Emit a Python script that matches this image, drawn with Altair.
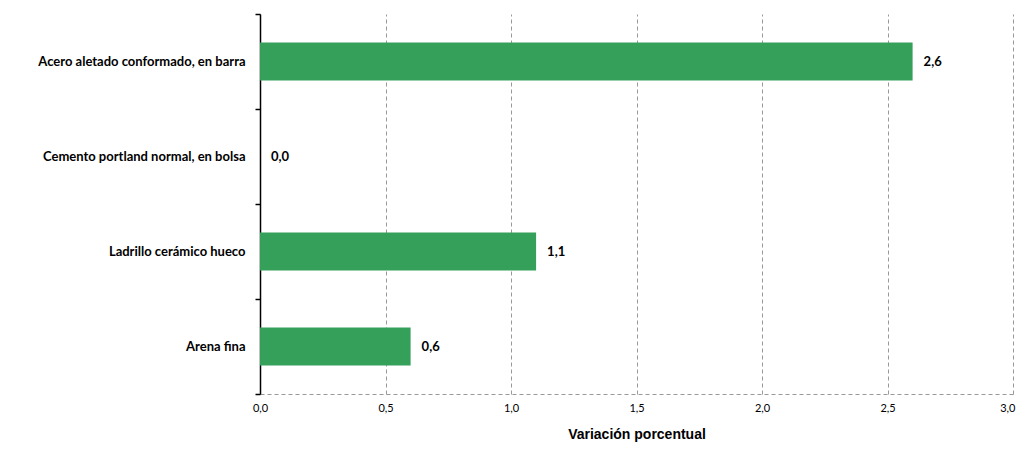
import altair as alt
import pandas as pd

categorias = ["Acero aletado conformado, en barra", "Cemento portland normal, en bolsa",
              "Ladrillo cerámico hueco", "Arena fina"]
valores = [2.6, 0.0, 1.1, 0.6]
etiquetas = ["2,6", "0,0", "1,1", "0,6"]

df = pd.DataFrame({"cat": categorias, "val": valores, "lab": etiquetas})

FONT = "Lato"

y_enc = alt.Y("cat:N", sort=categorias, title=None,
              scale=alt.Scale(paddingInner=0, paddingOuter=0),
              axis=alt.Axis(domainColor="black", domainWidth=1.5, tickColor="black",
                            tickWidth=1.5, tickSize=5, tickBand="extent", labelPadding=10,
                            labelFont=FONT, labelFontWeight="bold", labelFontSize=13,
                            labelLimit=400, labelColor="black", grid=False))
x_enc = alt.X("val:Q", title="Variación porcentual",
              scale=alt.Scale(domain=[0, 3.0], nice=False),
              axis=alt.Axis(values=[0, 0.5, 1, 1.5, 2, 2.5, 3.0],
                            labelExpr="replace(format(datum.value, '.1f'), '.', ',')",
                            labelAlign={"expr": "datum.value >= 3 ? 'right' : 'center'"},
                            labelOffset={"expr": "datum.value >= 3 ? 2 : 0"},
                            labelFont=FONT, labelFontSize=11, labelColor="black",
                            labelPadding=8, labelFlush=False, ticks=False,
                            domainColor="#999999", domainDash=[4, 3], domainWidth=1,
                            grid=True, gridColor="#999999", gridDash=[4, 3], gridWidth=1,
                            titleFont="Liberation Sans", titleFontSize=14,
                            titleFontWeight="bold", titleColor="black", titlePadding=14))

bars = alt.Chart(df).mark_bar(color="#35A05A", height=alt.RelativeBandSize(0.4)).encode(
    x=x_enc, y=y_enc)
text = alt.Chart(df).mark_text(align="left", dx=11, font=FONT, fontWeight="bold",
                               fontSize=13, color="black").encode(
    x="val:Q", y=alt.Y("cat:N", sort=categorias), text="lab:N")

chart = (bars + text).properties(
    width=753, height=380,
    autosize=alt.AutoSizeParams(type="none"),
    padding={"left": 252, "top": 6, "right": 3, "bottom": 48},
).configure_view(stroke=None)

chart.save("out.html", embed_options={"renderer": "svg", "actions": False})
